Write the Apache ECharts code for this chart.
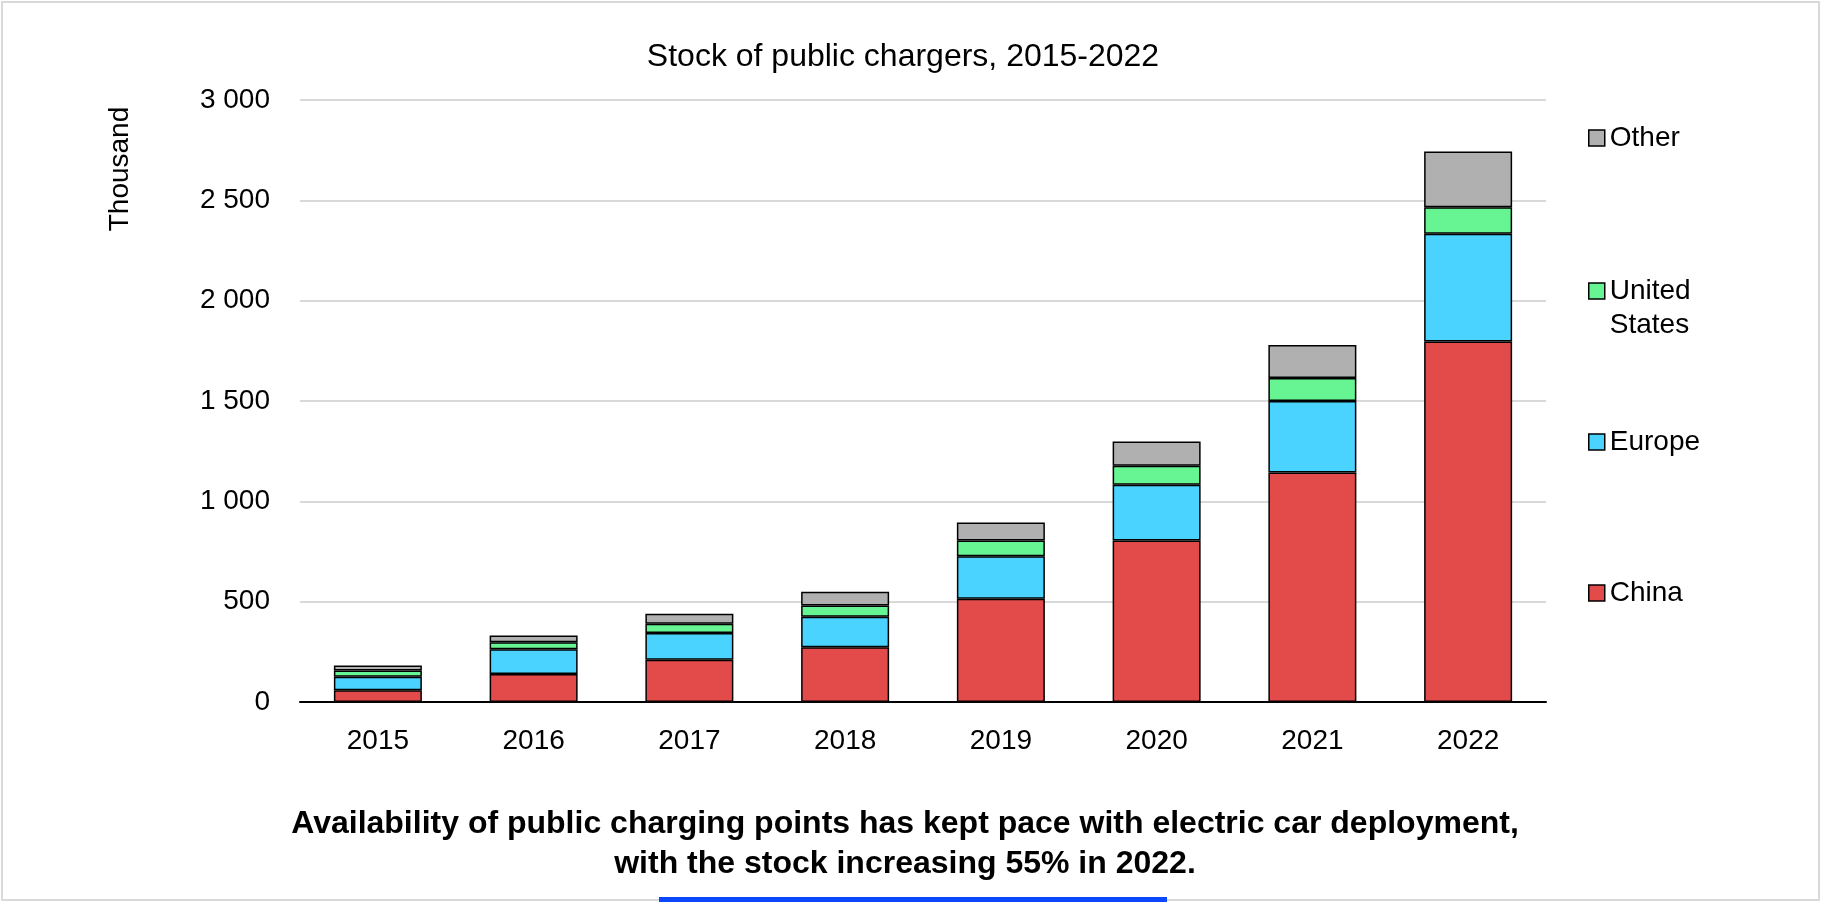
<!DOCTYPE html>
<html>
<head>
<meta charset="utf-8">
<script src="https://cdn.jsdelivr.net/npm/echarts@6/dist/echarts.min.js"></script>
<style>
html,body{margin:0;padding:0;background:#fff;}
#chart{width:1825px;height:902px;}
</style>
</head>
<body>
<div id="chart"></div>
<script>
var years = ['2015','2016','2017','2018','2019','2020','2021','2022'];
var china = [58, 139, 210, 273, 514, 805, 1144, 1797];
var europe = [68, 124, 134, 152, 212, 278, 356, 536];
var unitedStates = [31, 35, 46, 56, 79, 94, 115, 133];
var other = [25, 33, 50, 69, 89, 121, 164, 277];
var yTicks = [0, 500, 1000, 1500, 2000, 2500, 3000];

var FONT = "'Liberation Sans', Arial, sans-serif";
var colors = {China:'#E34B4A', Europe:'#4AD3FF', 'United States':'#66F592', Other:'#B0B0B0'};

function fmt(v){
  if (v >= 1000) { var r = v % 1000; return Math.floor(v/1000) + ' ' + ('00' + r).slice(-3); }
  return String(v);
}

var chart = echarts.init(document.getElementById('chart'), null, {renderer:'canvas'});

function mkSeries(name, data){
  return {
    name: name, type: 'bar', stack: 'total', data: data, barWidth: 88,
    itemStyle: {color: colors[name], borderColor: '#000', borderWidth: 1.5},
    emphasis: {disabled: true}
  };
}
function mkLegend(name, top){
  return {
    data: [name], orient: 'vertical', left: 1588, top: top, padding: 0,
    itemWidth: 16, itemHeight: 16, icon: 'rect', selectedMode: false,
    itemStyle: {borderColor: '#000', borderWidth: 1.5},
    formatter: name === 'United States' ? '\nUnited\nStates' : '{name}',
    textStyle: {fontFamily: FONT, fontSize: 28, color: '#000', lineHeight: 34}
  };
}

var option = {
  backgroundColor: '#fff',
  animation: false,
  title: [
    {text: 'Stock of public chargers, 2015-2022', left: 898, top: 36, textAlign: 'center',
     textStyle: {fontFamily: FONT, fontSize: 32, fontWeight: 'normal', color: '#000'}},
    {text: 'Availability of public charging points has kept pace with electric car deployment,\nwith the stock increasing 55% in 2022.',
     left: 900, top: 799, textAlign: 'center',
     textStyle: {fontFamily: FONT, fontSize: 32, fontWeight: 'bold', color: '#000', lineHeight: 40}}
  ],
  grid: {left: 300, right: 279, top: 100, bottom: 200, containLabel: false},
  legend: [
    mkLegend('Other', 121),
    mkLegend('United States', 240),
    mkLegend('Europe', 425),
    mkLegend('China', 576)
  ],
  xAxis: {
    type: 'category', data: years,
    axisLine: {show: true, lineStyle: {color: '#000', width: 2}},
    axisTick: {show: false},
    axisLabel: {fontFamily: FONT, fontSize: 28, color: '#000', margin: 25}
  },
  yAxis: {
    type: 'value', min: yTicks[0], max: yTicks[yTicks.length-1], interval: yTicks[1]-yTicks[0],
    axisLine: {show: false}, axisTick: {show: false},
    splitLine: {lineStyle: {color: '#D9D9D9', width: 2}},
    axisLabel: {fontFamily: FONT, fontSize: 28, color: '#000', margin: 30, formatter: fmt}
  },
  graphic: [
    {type: 'text', x: 120, y: 169, rotation: Math.PI/2,
     style: {text: 'Thousand', fontFamily: FONT, fontSize: 28, fill: '#000', align: 'center', verticalAlign: 'middle'}},
    {type: 'rect', shape: {x: 2, y: 2, width: 1817, height: 898}, style: {fill: 'none', stroke: '#D9D9D9', lineWidth: 2}, silent: true},
    {type: 'rect', shape: {x: 659, y: 897, width: 508, height: 5}, style: {fill: '#0A47FF'}, silent: true}
  ],
  series: [
    mkSeries('China', china),
    mkSeries('Europe', europe),
    mkSeries('United States', unitedStates),
    mkSeries('Other', other)
  ]
};
chart.setOption(option);
</script>
</body>
</html>
